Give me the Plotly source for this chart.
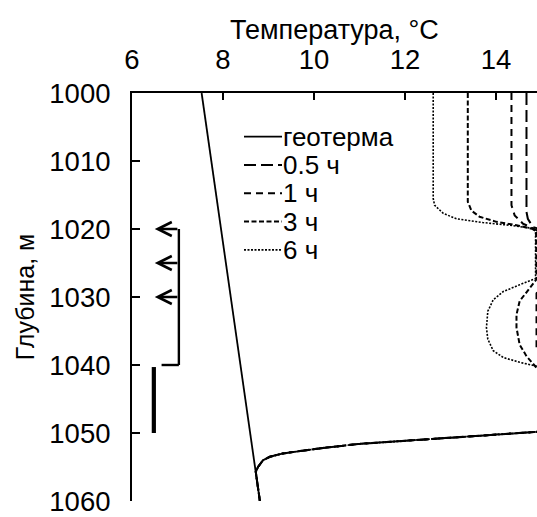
import plotly.graph_objects as go

# ---- data -------------------------------------------------------------
# geotherm (undisturbed rock temperature)
geo_depth = [1000, 1060]
geo_temp = [7.53, 8.81]

# lower part shared by all recovery profiles (return to the geotherm)
tail_depth = [1049.65, 1049.85, 1050.7, 1051.6, 1052.2, 1052.7, 1053.0, 1053.5, 1054.0, 1055.0, 1055.7, 1060]
tail_temp = [15.3, 14.84, 12.91, 11.0, 10.2, 9.61, 9.32, 9.03, 8.88, 8.77, 8.72, 8.81]

# 0.5 h after shut-in
depth_05 = [1000, 1017.5, 1018.5, 1019.7, 1020.3, 1040]
temp_05 = [14.67, 14.67, 14.70, 14.81, 15.1, 15.3]

# 1 h
depth_1 = [1000, 1016.5, 1018, 1019.2, 1019.9, 1020.5, 1028, 1029.5, 1037.5, 1039, 1040]
temp_1 = [14.34, 14.34, 14.41, 14.59, 14.81, 15.0, 15.0, 14.89, 14.89, 15.0, 15.3]

# 3 h
depth_3 = [1000, 1016, 1017.3, 1018.2, 1018.95, 1019.45, 1020.0, 1020.5, 1027.4, 1029.2, 1030.6,
           1032.6, 1034.5, 1037, 1038.7, 1040.4, 1041]
temp_3 = [13.38, 13.38, 13.46, 13.64, 14.01, 14.45, 14.81, 14.88, 14.89, 14.67, 14.52,
          14.45, 14.45, 14.52, 14.67, 14.89, 15.3]

# 6 h
depth_6 = [1000, 1015.5, 1016.5, 1017.7, 1018.5, 1019.05, 1019.45, 1019.9, 1020.4, 1027.3, 1028.2,
           1029.2, 1030.4, 1032.1, 1034.5, 1036.2, 1037.9, 1038.9, 1039.6, 1040.1, 1040.8]
temp_6 = [12.62, 12.62, 12.65, 12.84, 13.13, 13.71, 14.30, 14.81, 14.87, 14.87, 14.52,
          14.16, 13.94, 13.82, 13.79, 13.82, 13.94, 14.16, 14.52, 14.84, 15.3]

# inflow depths (arrows) and perforated interval
inflow_depths = [1020, 1025, 1030]
perf_interval = [1040, 1050]

x_ticks = [6, 8, 10, 12, 14]
y_ticks = [1000, 1010, 1020, 1030, 1040, 1050, 1060]

x_title = "Температура, °C"
y_title = "Глубина, м"

FONT = "Arial, Liberation Sans, sans-serif"

series = [
    ("геотерма", geo_depth, geo_temp, "solid", 1.8),
    ("0.5 ч", depth_05 + tail_depth, temp_05 + tail_temp, "12px,5px", 2),
    ("1 ч", depth_1 + tail_depth, temp_1 + tail_temp, "7px,5px", 2),
    ("3 ч", depth_3 + tail_depth, temp_3 + tail_temp, "5px,2.5px", 2),
    ("6 ч", depth_6 + tail_depth, temp_6 + tail_temp, "2px,1.5px", 1.6),
]

fig = go.Figure()
for name, d, t, dash, w in series:
    fig.add_trace(go.Scatter(
        x=t, y=d, mode="lines", name=name, showlegend=False,
        line=dict(color="black", width=w, dash=dash),
    ))

# ---- legend (drawn in paper space) -------------------------------------
W, H = 537, 517
ML, MR, MT, MB = 132, 0, 93, 16
pw, ph = W - ML - MR, H - MT - MB


def px_x(p):
    return (p - ML) / pw


def px_y(p):
    return (H - MB - p) / ph


leg_top, leg_step = 136.7, 28.3
shapes = []
annotations = []
for i, (name, d, t, dash, w) in enumerate(series):
    yc = px_y(leg_top + i * leg_step)
    shapes.append(dict(type="line", xref="paper", yref="paper",
                       x0=px_x(244), x1=px_x(282), y0=yc, y1=yc,
                       line=dict(color="black", width=w, dash=dash)))
    annotations.append(dict(xref="paper", yref="paper", x=px_x(281), y=yc,
                            text=name, showarrow=False, xanchor="left", yanchor="middle",
                            font=dict(family=FONT, size=26, color="black")))

# temperature axis title above the top tick labels
annotations.append(dict(xref="paper", yref="paper", x=0.5, y=px_y(29.5),
                        text=x_title, showarrow=False, xanchor="center", yanchor="middle",
                        font=dict(family=FONT, size=27, color="black")))

# ---- inflow scheme -----------------------------------------------------
x_riser = 7.03
shapes.append(dict(type="line", xref="x", yref="y", x0=x_riser, x1=x_riser,
                   y0=inflow_depths[0], y1=perf_interval[0],
                   line=dict(color="black", width=2.4)))
shapes.append(dict(type="line", xref="x", yref="y", x0=6.65, x1=x_riser,
                   y0=perf_interval[0], y1=perf_interval[0],
                   line=dict(color="black", width=2.4)))
shapes.append(dict(type="line", xref="x", yref="y", x0=6.48, x1=6.48,
                   y0=perf_interval[0] + 0.3, y1=perf_interval[1],
                   line=dict(color="black", width=4.2)))
for d in inflow_depths:
    annotations.append(dict(x=6.5, y=d, ax=x_riser, ay=d, axref="x", ayref="y",
                            xref="x", yref="y", text="", showarrow=True,
                            arrowhead=5, arrowsize=1.1, arrowwidth=2.5, arrowcolor="black"))

fig.update_layout(
    width=W, height=H,
    margin=dict(l=ML, r=MR, t=MT, b=MB),
    paper_bgcolor="white", plot_bgcolor="white",
    font=dict(family=FONT, size=27, color="black"),
    shapes=shapes, annotations=annotations,
    showlegend=False,
)
fig.update_xaxes(
    side="top", range=[6, 6 + pw / 45.5], automargin=False,
    tickvals=x_ticks, ticks="inside", ticklen=7, tickwidth=2, tickcolor="black",
    showline=True, linewidth=2, linecolor="black", showgrid=False, zeroline=False,
    tickfont=dict(size=27.5), ticklabelstandoff=11, ticklabeloverflow="allow",
)
fig.update_yaxes(
    range=[1060, 1000], automargin=False,
    tickvals=y_ticks, ticks="inside", ticklen=8, tickwidth=2, tickcolor="black",
    showline=True, linewidth=2, linecolor="black", showgrid=False, zeroline=False,
    tickfont=dict(size=27.5), ticklabelstandoff=14, ticklabeloverflow="allow",
    title=dict(text=y_title, font=dict(size=25), standoff=8),
)

fig.write_html("out.html")
